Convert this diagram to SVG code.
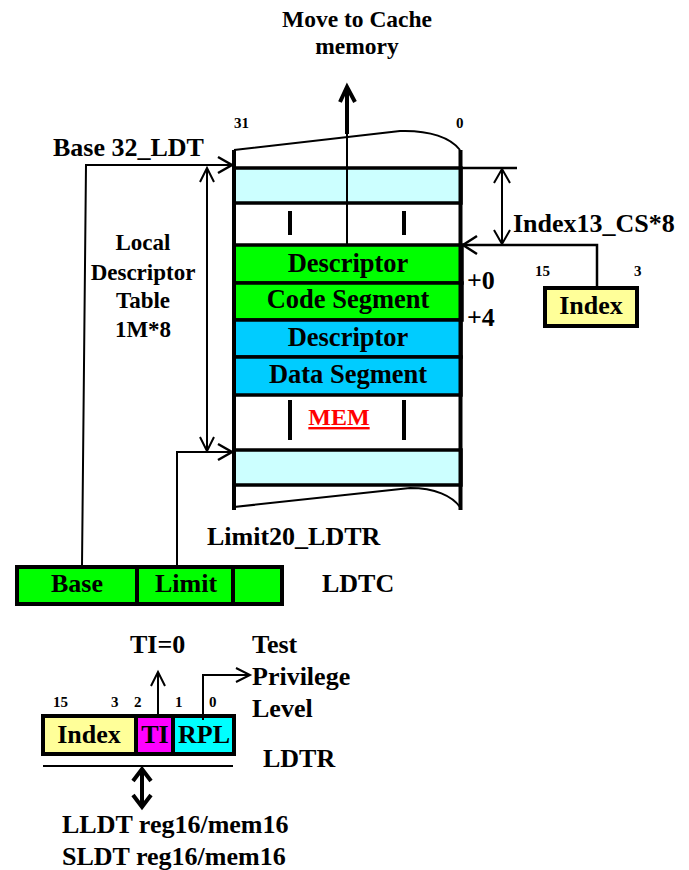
<svg xmlns="http://www.w3.org/2000/svg" width="689" height="870" viewBox="0 0 689 870">
<style>
text{font-family:"Liberation Serif","Times New Roman",serif;font-weight:bold;fill:#000}
.t{font-size:26px}
.m{text-anchor:middle}
.s{font-size:15px}
.box{stroke:#000;stroke-width:4}
.row{stroke:#000;stroke-width:3.5}
.ln{fill:none;stroke:#000;stroke-width:2}
.tk{stroke:#000;stroke-width:4}
</style>
<rect width="689" height="870" fill="#fff"/>

<g id="title">
<text class="t m" x="357" y="27" style="font-size:23.5px">Move to Cache</text>
<text class="t m" x="357" y="54" style="font-size:23.5px">memory</text>
</g>

<g id="memory">
<rect x="234" y="168" width="227" height="35" fill="#CCFFFF" class="row"/>
<rect x="234" y="245" width="228" height="38" fill="#00FF00" class="row"/>
<rect x="234" y="283" width="228" height="37" fill="#00FF00" class="row"/>
<rect x="234" y="320" width="227" height="37" fill="#00CCFF" class="row"/>
<rect x="234" y="357" width="227" height="38" fill="#00CCFF" class="row"/>
<rect x="234" y="450" width="227" height="35" fill="#CCFFFF" class="row"/>
<path d="M234,150 L400,131 C430,130 451,138 460,150" class="ln"/>
<path d="M234,507 L410,488 C435,488 452,496 460,507" class="ln"/>
<line x1="234" y1="150" x2="234" y2="510" class="tk"/>
<line x1="460.5" y1="150" x2="460.5" y2="510" class="tk"/>
<line x1="347" y1="132" x2="347" y2="245" stroke="#000" stroke-width="2"/>
<line x1="290" y1="211" x2="290" y2="235" class="tk"/>
<line x1="404" y1="211" x2="404" y2="235" class="tk"/>
<line x1="290" y1="400" x2="290" y2="440" class="tk"/>
<line x1="404" y1="400" x2="404" y2="440" class="tk"/>
<text class="t m" x="348" y="272" style="font-size:26.5px">Descriptor</text>
<text class="t m" x="348" y="308" style="font-size:26.5px">Code Segment</text>
<text class="t m" x="348" y="346" style="font-size:26.5px">Descriptor</text>
<text class="t m" x="348" y="383" style="font-size:26.5px">Data Segment</text>
<text class="m" x="339" y="425" style="font-size:24px;fill:#FF0000;text-decoration:underline">MEM</text>
<text class="s" x="234" y="128">31</text>
<text class="s" x="456" y="128">0</text>
<text class="t" x="467" y="289">+0</text>
<text class="t" x="467" y="326">+4</text>
</g>

<g id="ldt-label">
<text class="t" x="53" y="156">Base 32_LDT</text>
<text class="m" x="143" y="250" style="font-size:23px">Local</text>
<text class="m" x="143" y="280" style="font-size:23px">Descriptor</text>
<text class="m" x="143" y="308" style="font-size:23px">Table</text>
<text class="m" x="143" y="337" style="font-size:23px">1M*8</text>
<text class="t" x="207" y="545">Limit20_LDTR</text>
</g>

<g id="index-cs">
<text class="t" x="513" y="232">Index13_CS*8</text>
<text class="s" x="535" y="276">15</text>
<text class="s" x="634" y="276">3</text>
<rect x="545" y="288" width="92" height="38" fill="#FFFF99" class="box"/>
<text class="t m" x="591" y="314">Index</text>
</g>

<g id="ldtc">
<rect x="17" y="567" width="120" height="37" fill="#00FF00" class="box"/>
<rect x="137" y="567" width="96" height="37" fill="#00FF00" class="box"/>
<rect x="233" y="567" width="49" height="37" fill="#00FF00" class="box"/>
<text class="t m" x="77" y="592">Base</text>
<text class="t m" x="186" y="592">Limit</text>
<text class="t" x="322" y="592">LDTC</text>
</g>

<g id="ldtr">
<text class="t" x="130" y="653">TI=0</text>
<text class="t" x="252" y="653">Test</text>
<text class="t" x="252" y="685">Privilege</text>
<text class="t" x="252" y="717">Level</text>
<text class="s" x="53" y="707">15</text>
<text class="s" x="111" y="707">3</text>
<text class="s" x="134" y="707">2</text>
<text class="s" x="175" y="707">1</text>
<text class="s" x="209" y="707">0</text>
<rect x="43" y="716" width="93" height="38" fill="#FFFF99" class="box"/>
<rect x="136" y="716" width="37" height="38" fill="#FF00FF" class="box"/>
<rect x="173" y="716" width="61" height="38" fill="#00FFFF" class="box"/>
<text class="t m" x="89" y="743">Index</text>
<text class="t m" x="155" y="743">TI</text>
<text class="t m" x="204" y="743">RPL</text>
<text class="t" x="263" y="767">LDTR</text>
<text class="t" x="62" y="833">LLDT reg16/mem16</text>
<text class="t" x="62" y="865">SLDT reg16/mem16</text>
</g>

<g id="connectors" fill="none" stroke="#000">
<line x1="347" y1="134" x2="347" y2="89" stroke-width="4"/>
<polyline points="340,102 347,87 355,102" stroke-width="4"/>
<line x1="460" y1="168" x2="517" y2="168" stroke-width="2.5"/>
<line x1="502" y1="169" x2="502" y2="244" stroke-width="2"/>
<polyline points="494,183 502,169 510,183" stroke-width="2"/>
<polyline points="494,230 502,244 510,230" stroke-width="2"/>
<polyline points="597,286 597,245 463,245" stroke-width="2.5"/>
<polyline points="477,236 463,245 477,254" stroke-width="2.5"/>
<polyline points="82,566 86,165 232,165" stroke-width="2"/>
<polyline points="218,157 232,165 218,173" stroke-width="2.5"/>
<line x1="207" y1="168" x2="207" y2="451" stroke-width="2"/>
<polyline points="200,182 207,168 214,182" stroke-width="2"/>
<polyline points="200,437 207,451 214,437" stroke-width="2"/>
<polyline points="177,566 177,452 232,452" stroke-width="2"/>
<polyline points="218,444 232,452 218,460" stroke-width="2.5"/>
<line x1="158" y1="715" x2="158" y2="673" stroke-width="2"/>
<polyline points="151,686 158,672 165,686" stroke-width="2"/>
<polyline points="203,720 203,675 249,675" stroke-width="2"/>
<polyline points="236,668 250,675 236,682" stroke-width="2"/>
<line x1="43" y1="766" x2="233" y2="766" stroke-width="2"/>
<line x1="142" y1="770" x2="142" y2="806" stroke-width="4"/>
<polyline points="133,781 142,769 151,781" stroke-width="4"/>
<polyline points="133,795 142,807 151,795" stroke-width="4"/>
</g>
</svg>
